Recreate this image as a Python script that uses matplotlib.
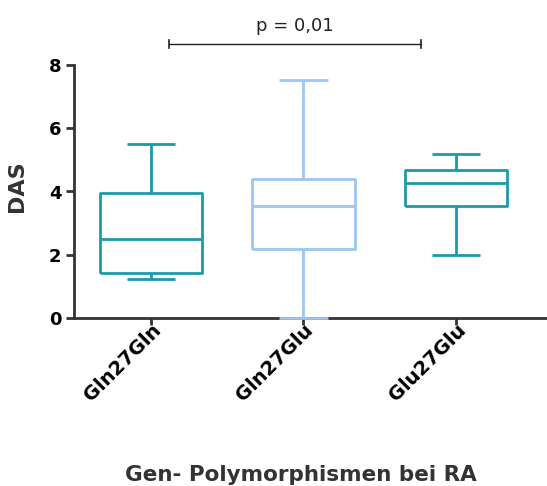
import numpy as np
import matplotlib.pyplot as plt

plt.rcParams['font.family'] = ['DejaVu Sans']

groups = ['Gln27Gln', 'Gln27Glu', 'Glu27Glu']
whislo = [1.23, 0.0, 1.98]
q1 = [1.43, 2.19, 3.55]
med = [2.49, 3.53, 4.26]
q3 = [3.96, 4.41, 4.67]
whishi = [5.5, 7.53, 5.2]
colors = ['#1b9aaa', '#9cc6f5', '#1b9aaa']

p_text = 'p = 0,01'
yticks = [0, 2, 4, 6, 8]

axis_col = '#333333'

fig = plt.figure(figsize=(5.47, 4.86), dpi=100)
ax = fig.add_axes([74 / 547, 168 / 486, 1 - 74 / 547, 253 / 486])

stats = []
for i, g in enumerate(groups):
    stats.append(dict(label=g, whislo=whislo[i], q1=q1[i], med=med[i],
                      q3=q3[i], whishi=whishi[i], fliers=[]))

pos = np.arange(len(groups))
for i, s in enumerate(stats):
    c = colors[i]
    lp = dict(color=c, linewidth=2.0, solid_capstyle='butt')
    art = ax.bxp([s], positions=[pos[i]], widths=0.67, capwidths=0.32,
                 showfliers=False, boxprops=lp, whiskerprops=lp,
                 capprops=lp, medianprops=lp, manage_ticks=False)
    for key in art:
        for a in art[key]:
            a.set_clip_on(False)
            a.set_zorder(5)

ax.set_xlim(-0.505, 2.597)
ax.set_ylim(0, 8)
ax.set_xticks(pos)
ax.set_xticklabels(groups, rotation=45, ha='right', va='top',
                   rotation_mode='anchor', fontsize=14, fontweight='bold')
ax.set_yticks(yticks)
ax.set_yticklabels([str(t) for t in yticks], fontsize=13, fontweight='bold')
ax.tick_params(axis='both', direction='out', color=axis_col, width=2,
               length=6, pad=3)
ax.tick_params(axis='x', length=5, pad=-3.5)

for side in ['top', 'right']:
    ax.spines[side].set_visible(False)
for side in ['left', 'bottom']:
    ax.spines[side].set_color(axis_col)
    ax.spines[side].set_linewidth(2)
    ax.spines[side].set_zorder(3)

ax.set_ylabel('DAS', fontsize=16, fontweight='bold', color=axis_col)
ax.yaxis.set_label_coords(-47 / 473, 132 / 253)

# significance bracket between the first and third group
yb = 8.66
x0, x1 = 0.118, 1.77
ax.plot([x0, x1], [yb, yb], color='#222222', lw=1.0, clip_on=False)
for xx in (x0, x1):
    ax.plot([xx, xx], [yb - 0.13, yb + 0.13], color='#222222', lw=1.2,
            clip_on=False)
ax.text(0.945, 8.95, p_text, ha='center', va='bottom', fontsize=13,
        color='#222222', clip_on=False)

fig.text(301 / 547, 1 / 486, 'Gen- Polymorphismen bei RA',
         ha='center', va='bottom', fontsize=15.5, fontweight='bold',
         color=axis_col)

fig.savefig('out.png', dpi=100)
